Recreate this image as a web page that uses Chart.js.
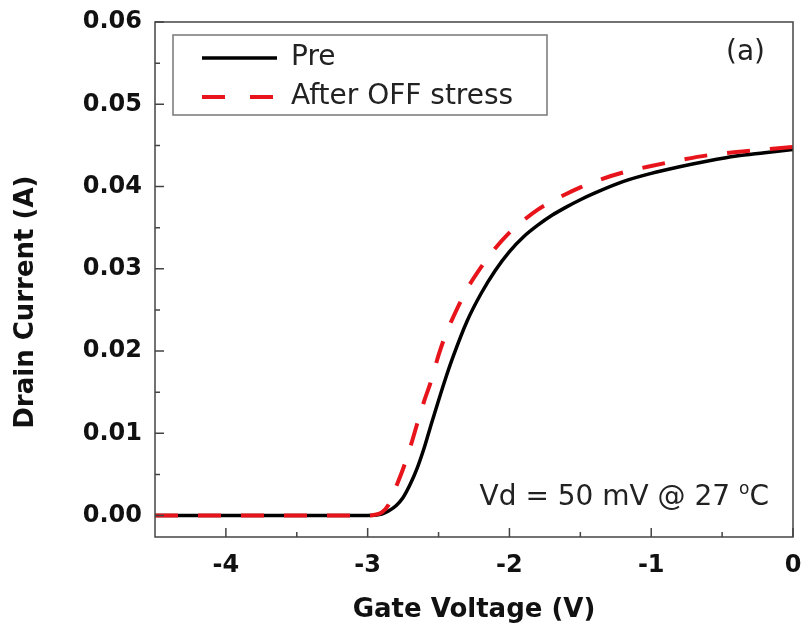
<!DOCTYPE html>
<html>
<head>
<meta charset="utf-8">
<script src="https://cdn.jsdelivr.net/npm/chart.js@4.4.0/dist/chart.umd.min.js"></script>
<style>
  html, body { margin: 0; padding: 0; background: #fff; }
</style>
</head>
<body>
<canvas id="chart" width="801" height="635"></canvas>
<script>
// DATA
const preVg  = [-4.5, -3.2, -3.0, -2.9, -2.85, -2.8, -2.75, -2.7, -2.65, -2.6, -2.55, -2.5, -2.45, -2.4, -2.3, -2.2, -2.1, -2.0, -1.9, -1.8, -1.7, -1.6, -1.5, -1.4, -1.2, -1.0, -0.8, -0.6, -0.4, -0.2, 0];
const preId  = [0, 0, 0, 0.0002, 0.0006, 0.0012, 0.0022, 0.0038, 0.0058, 0.0083, 0.0112, 0.0140, 0.0167, 0.0192, 0.0236, 0.0270, 0.0298, 0.0321, 0.0339, 0.0353, 0.0365, 0.0375, 0.0384, 0.0392, 0.0406, 0.0416, 0.0424, 0.0431, 0.0437, 0.0441, 0.0445];
const postVg = [-4.5, -3.2, -3.0, -2.95, -2.9, -2.85, -2.8, -2.75, -2.7, -2.65, -2.6, -2.55, -2.5, -2.45, -2.4, -2.3, -2.2, -2.1, -2.0, -1.9, -1.8, -1.7, -1.6, -1.5, -1.4, -1.2, -1.0, -0.8, -0.6, -0.4, -0.2, 0];
const postId = [0, 0, 0, 0.0001, 0.0004, 0.0014, 0.0035, 0.0057, 0.0083, 0.0112, 0.0140, 0.0165, 0.0195, 0.0220, 0.0240, 0.0275, 0.0302, 0.0325, 0.0344, 0.0359, 0.0372, 0.0382, 0.0391, 0.0399, 0.0406, 0.0417, 0.0425, 0.0432, 0.0438, 0.0442, 0.0445, 0.0448];

const seriesNames = ["Pre", "After OFF stress"];

const xTickValues  = [-4, -3, -2, -1, 0];
const xMinorValues = [-3.5, -2.5, -1.5, -0.5];
const yTickValues  = [0, 0.01, 0.02, 0.03, 0.04, 0.05, 0.06];
const yMinorValues = [0.005, 0.015, 0.025, 0.035, 0.045, 0.055];

const FONT = "'DejaVu Sans', sans-serif";

function toPoints(xs, ys) {
  return xs.map((x, i) => ({ x: x, y: ys[i] }));
}

// frame + inward ticks
const frameTicks = {
  id: "frameTicks",
  afterDatasetsDraw(chart) {
    const { ctx, chartArea: a, scales: { x, y } } = chart;
    ctx.save();
    ctx.strokeStyle = "#444";
    ctx.lineWidth = 1.5;
    ctx.strokeRect(a.left, a.top, a.right - a.left, a.bottom - a.top);
    ctx.beginPath();
    xTickValues.forEach(v => {
      const px = x.getPixelForValue(v);
      ctx.moveTo(px, a.bottom); ctx.lineTo(px, a.bottom - 9);
    });
    xMinorValues.forEach(v => {
      const px = x.getPixelForValue(v);
      ctx.moveTo(px, a.bottom); ctx.lineTo(px, a.bottom - 5);
    });
    yTickValues.forEach(v => {
      const py = y.getPixelForValue(v);
      ctx.moveTo(a.left, py); ctx.lineTo(a.left + 9, py);
    });
    yMinorValues.forEach(v => {
      const py = y.getPixelForValue(v);
      ctx.moveTo(a.left, py); ctx.lineTo(a.left + 5, py);
    });
    ctx.stroke();
    ctx.restore();
  }
};

// legend placement, legend frame and text notes
const notes = {
  id: "notes",
  afterLayout(chart) {
    chart.legend.left = chart.chartArea.left + 36;
    chart.legend.top = chart.chartArea.top + 11;
  },
  afterDraw(chart) {
    const { ctx, chartArea: a } = chart;
    ctx.save();
    // legend frame
    ctx.strokeStyle = "#777";
    ctx.lineWidth = 1.5;
    ctx.strokeRect(a.left + 18, a.top + 13, 374, 80);

    ctx.fillStyle = "#222";
    ctx.textBaseline = "alphabetic";
    ctx.font = "28px " + FONT;
    ctx.textAlign = "right";
    ctx.fillText("(a)", a.right - 28, a.top + 38);

    // Vd = 50 mV @ 27 oC
    const main = "Vd = 50 mV @ 27 ";
    ctx.textAlign = "left";
    ctx.font = "28px " + FONT;
    const wMain = ctx.measureText(main).width;
    const wC = ctx.measureText("C").width;
    ctx.font = "17px " + FONT;
    const wO = ctx.measureText("o").width;
    const right = a.right - 24;
    const base = a.bottom - 32;
    let xPos = right - wC - wO - wMain;
    ctx.font = "28px " + FONT;
    ctx.fillText(main, xPos, base);
    xPos += wMain;
    ctx.font = "17px " + FONT;
    ctx.fillText("o", xPos, base - 11);
    xPos += wO;
    ctx.font = "28px " + FONT;
    ctx.fillText("C", xPos, base);
    ctx.restore();
  }
};

const chart = new Chart(document.getElementById("chart").getContext("2d"), {
  type: "line",
  data: {
    datasets: [
      {
        label: seriesNames[0],
        data: toPoints(preVg, preId),
        borderColor: "#000",
        backgroundColor: "#000",
        borderWidth: 3.5,
        pointRadius: 0,
        cubicInterpolationMode: "monotone",
        order: 1
      },
      {
        label: seriesNames[1],
        data: toPoints(postVg, postId),
        borderColor: "#e8141b",
        backgroundColor: "#e8141b",
        borderWidth: 4,
        borderDash: [23, 20],
        pointRadius: 0,
        cubicInterpolationMode: "monotone",
        order: 0
      }
    ]
  },
  options: {
    responsive: false,
    animation: false,
    devicePixelRatio: 1,
    layout: { padding: { top: 22, right: 8, left: 0, bottom: 0 } },
    plugins: {
      tooltip: { enabled: false },
      legend: {
        position: "chartArea",
        align: "start",
        labels: {
          usePointStyle: true,
          pointStyle: "line",
          pointStyleWidth: 75,
          padding: 11,
          color: "#222",
          font: { family: FONT, size: 28 },
          sort: (a, b) => a.datasetIndex - b.datasetIndex,
          generateLabels(c) {
            const items = Chart.defaults.plugins.legend.labels.generateLabels(c);
            items.forEach(it => {
              const ds = c.data.datasets[it.datasetIndex];
              it.lineWidth = ds.borderWidth;
              it.lineDash = ds.borderDash ? [23, 25] : [];
            });
            return items;
          }
        }
      }
    },
    scales: {
      x: {
        type: "linear",
        min: -4.5,
        max: 0,
        afterBuildTicks: s => { s.ticks = xTickValues.map(v => ({ value: v })); },
        afterFit: s => { s.height = 98; s.paddingLeft = 0; s.paddingRight = 0; },
        grid: { display: false, drawTicks: false },
        border: { display: false },
        ticks: {
          color: "#111",
          padding: 14,
          font: { family: FONT, size: 24, weight: "bold" },
          callback: v => String(v)
        },
        title: {
          display: true,
          text: "Gate Voltage (V)",
          color: "#111",
          font: { family: FONT, size: 26, weight: "bold" },
          padding: { top: 0, bottom: 9 }
        }
      },
      y: {
        type: "linear",
        min: -0.0026,
        max: 0.06,
        afterBuildTicks: s => { s.ticks = yTickValues.map(v => ({ value: v })); },
        afterFit: s => { s.width = 155; s.paddingTop = 0; s.paddingBottom = 0; },
        grid: { display: false, drawTicks: false },
        border: { display: false },
        ticks: {
          color: "#111",
          padding: 13,
          font: { family: FONT, size: 24, weight: "bold" },
          callback: v => v.toFixed(2)
        },
        title: {
          display: true,
          text: "Drain Current (A)     ",
          color: "#111",
          font: { family: FONT, size: 26, weight: "bold" },
          padding: { top: 11, bottom: 0 }
        }
      }
    }
  },
  plugins: [frameTicks, notes]
});
</script>
</body>
</html>
